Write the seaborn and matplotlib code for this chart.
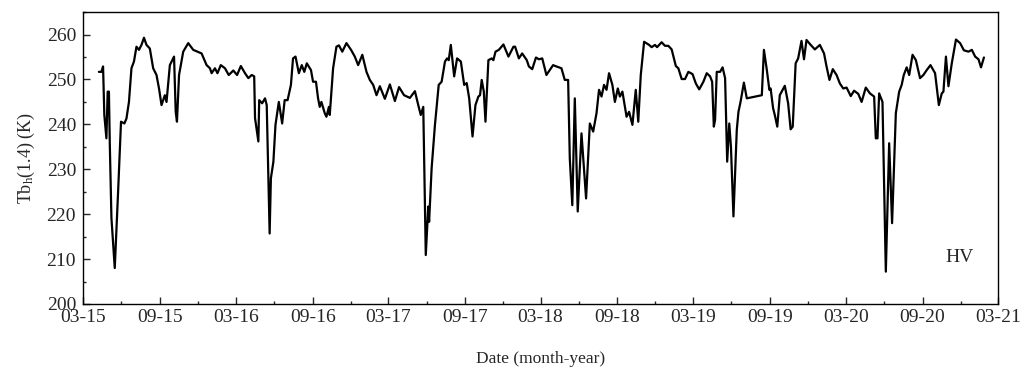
import numpy as np
import pandas as pd
import matplotlib
matplotlib.use("Agg")
import matplotlib.pyplot as plt
import matplotlib.dates as mdates
import seaborn as sns

#---- data ----#

dates = [
    "2015-04-08", "2015-04-14", "2015-04-18", "2015-04-21", "2015-04-26", "2015-04-29",
    "2015-05-02", "2015-05-04", "2015-05-08", "2015-05-16", "2015-05-24", "2015-05-31",
    "2015-06-08", "2015-06-13", "2015-06-19", "2015-06-25", "2015-07-01", "2015-07-07",
    "2015-07-13", "2015-07-19", "2015-07-25", "2015-07-31", "2015-08-08", "2015-08-16",
    "2015-08-24", "2015-08-30", "2015-09-05", "2015-09-13", "2015-09-17", "2015-09-25",
    "2015-10-05", "2015-10-09", "2015-10-12", "2015-10-17", "2015-10-27", "2015-11-08",
    "2015-11-20", "2015-12-10", "2015-12-22", "2015-12-30",
    "2016-01-03", "2016-01-11", "2016-01-17", "2016-01-25", "2016-02-04", "2016-02-13",
    "2016-02-24", "2016-03-04", "2016-03-13", "2016-03-23", "2016-03-31", "2016-04-08",
    "2016-04-14", "2016-04-16", "2016-04-24", "2016-04-26", "2016-05-03", "2016-05-10",
    "2016-05-14", "2016-05-21", "2016-05-24", "2016-05-30", "2016-06-04", "2016-06-12",
    "2016-06-20", "2016-06-26", "2016-07-03", "2016-07-11", "2016-07-16", "2016-07-22",
    "2016-07-30", "2016-08-06", "2016-08-12", "2016-08-18", "2016-08-28", "2016-09-02",
    "2016-09-09", "2016-09-14", "2016-09-18", "2016-09-22", "2016-09-30", "2016-10-04",
    "2016-10-10", "2016-10-12", "2016-10-20", "2016-10-28", "2016-11-03", "2016-11-11",
    "2016-11-21", "2016-12-02", "2016-12-11", "2016-12-19", "2016-12-29",
    "2017-01-08", "2017-01-16", "2017-01-24", "2017-02-01", "2017-02-09", "2017-02-21",
    "2017-03-05", "2017-03-17", "2017-03-27", "2017-04-08", "2017-04-22", "2017-05-04",
    "2017-05-12", "2017-05-18", "2017-05-24", "2017-05-30", "2017-06-05", "2017-06-07",
    "2017-06-13", "2017-06-21", "2017-06-30", "2017-07-07", "2017-07-15", "2017-07-20",
    "2017-07-24", "2017-07-29", "2017-08-06", "2017-08-13", "2017-08-22", "2017-08-30",
    "2017-09-05", "2017-09-11", "2017-09-19", "2017-09-26", "2017-10-03", "2017-10-07",
    "2017-10-11", "2017-10-16", "2017-10-20", "2017-10-27", "2017-11-04", "2017-11-08",
    "2017-11-13", "2017-11-21", "2017-12-02", "2017-12-14", "2017-12-26", "2017-12-30",
    "2018-01-08", "2018-01-16", "2018-01-27", "2018-02-01", "2018-02-09", "2018-02-18",
    "2018-02-25", "2018-03-05", "2018-03-15", "2018-03-31", "2018-04-08", "2018-04-20",
    "2018-04-28", "2018-05-06", "2018-05-10", "2018-05-16", "2018-05-22", "2018-05-29",
    "2018-06-07", "2018-06-18", "2018-06-27", "2018-07-05", "2018-07-13", "2018-07-19",
    "2018-07-25", "2018-07-31", "2018-08-06", "2018-08-12", "2018-08-20", "2018-08-26",
    "2018-09-02", "2018-09-07", "2018-09-13", "2018-09-23", "2018-09-29", "2018-10-07",
    "2018-10-15", "2018-10-21", "2018-10-27", "2018-11-04", "2018-11-16", "2018-11-22",
    "2018-11-30", "2018-12-05", "2018-12-16", "2018-12-24",
    "2019-01-01", "2019-01-09", "2019-01-19", "2019-01-25", "2019-02-02", "2019-02-10",
    "2019-02-18", "2019-02-28", "2019-03-08", "2019-03-16", "2019-03-26", "2019-04-03",
    "2019-04-11", "2019-04-16", "2019-04-20", "2019-04-23", "2019-04-27", "2019-05-05",
    "2019-05-11", "2019-05-17", "2019-05-22", "2019-05-27", "2019-05-31", "2019-06-06",
    "2019-06-14", "2019-06-18", "2019-06-23", "2019-07-01", "2019-07-08", "2019-08-13",
    "2019-08-18", "2019-08-25", "2019-08-31", "2019-09-03", "2019-09-09", "2019-09-13",
    "2019-09-19", "2019-09-25", "2019-10-07", "2019-10-15", "2019-10-21", "2019-10-26",
    "2019-11-02", "2019-11-08", "2019-11-16", "2019-11-22", "2019-11-28", "2019-12-08",
    "2019-12-18", "2019-12-24", "2019-12-30",
    "2020-01-09", "2020-01-15", "2020-01-22", "2020-01-30", "2020-02-08", "2020-02-16",
    "2020-02-24", "2020-03-03", "2020-03-13", "2020-03-21", "2020-03-31", "2020-04-08",
    "2020-04-18", "2020-04-28", "2020-05-08", "2020-05-12", "2020-05-16", "2020-05-20",
    "2020-05-28", "2020-06-05", "2020-06-13", "2020-06-20", "2020-06-29", "2020-07-07",
    "2020-07-13", "2020-07-18", "2020-07-25", "2020-07-31", "2020-08-08", "2020-08-16",
    "2020-08-26", "2020-09-03", "2020-09-11", "2020-09-20", "2020-10-01", "2020-10-10",
    "2020-10-17", "2020-10-21", "2020-10-27", "2020-11-02", "2020-11-10", "2020-11-20",
    "2020-11-30", "2020-12-09", "2020-12-20", "2020-12-28",
    "2021-01-05", "2021-01-13", "2021-01-19", "2021-01-26",
]

tb_h = [
    251.7, 251.7, 252.9, 242.1, 236.9, 247.3,
    247.3, 236.2, 219.2, 208.0, 225.0, 240.6,
    240.2, 241.3, 245.0, 252.5, 254.0, 257.3,
    256.6, 257.7, 259.3, 257.7, 256.9, 252.5,
    251.0, 248.0, 244.3, 246.5, 245.0, 253.2,
    255.1, 242.8, 240.6, 251.0, 256.2, 258.1,
    256.6, 255.8, 253.2, 252.5,
    251.4, 252.5, 251.4, 253.2, 252.5, 251.0,
    252.0, 251.0, 253.0, 251.4, 250.3, 251.0,
    250.7, 241.4, 236.2, 245.4, 244.7, 245.8,
    244.3, 215.7, 228.0, 231.7, 239.9, 245.0,
    240.2, 245.4, 245.4, 248.8, 254.7, 255.1,
    251.4, 253.2, 251.7, 253.6, 252.1, 249.5,
    249.5, 245.8, 243.9, 245.0, 242.5, 241.7,
    243.9, 242.1, 252.5, 257.3, 257.6, 256.2,
    258.1, 256.6, 255.1, 253.2, 255.5,
    251.7, 249.9, 248.8, 246.5, 248.5, 245.7,
    248.9, 245.2, 248.3, 246.5, 245.9, 247.4,
    244.3, 242.1, 243.9, 210.9, 221.7, 218.3,
    230.2, 239.9, 248.8, 249.5, 254.0, 254.7,
    254.3, 257.7, 250.7, 254.7, 254.0, 248.8,
    249.2, 245.8, 237.3, 244.3, 246.2, 246.5,
    249.9, 247.3, 240.6, 254.3, 254.7, 254.3,
    256.2, 256.6, 257.8, 255.1, 257.3, 257.3,
    254.7, 255.8, 254.3, 252.9, 252.3, 254.9,
    254.5, 254.7, 251.0, 253.2, 252.9, 252.5,
    249.9, 249.9, 232.4, 222.0, 245.8, 220.6,
    238.0, 223.5, 240.2, 238.4, 242.5, 247.7,
    246.2, 248.8, 247.7, 251.4, 248.8, 245.0,
    248.0, 246.2, 247.3, 241.7, 242.8, 239.9,
    247.7, 240.6, 251.0, 258.4, 257.7, 257.2,
    257.7, 257.2, 258.3, 257.5,
    257.5, 256.7, 253.0, 252.5, 250.1, 250.1,
    251.7, 251.2, 249.1, 247.8, 249.5, 251.4,
    250.7, 249.5, 239.5, 241.0, 251.7, 251.7,
    252.7, 250.3, 231.7, 240.2, 235.0, 219.5,
    238.8, 242.8, 245.0, 249.3, 245.8, 246.5,
    256.6, 252.1, 247.7, 248.0, 243.6, 242.1,
    239.5, 246.5, 248.6, 244.7, 238.9, 239.5,
    253.6, 254.7, 258.6, 254.5, 258.8, 257.7,
    256.7, 257.2, 257.7,
    255.8, 252.9, 249.9, 252.3, 251.0, 249.1,
    248.0, 248.2, 246.3, 247.5, 246.8, 245.0,
    248.2, 246.9, 246.2, 236.9, 236.9, 246.9,
    245.0, 207.2, 235.8, 218.0, 242.5, 247.3,
    248.8, 251.0, 252.7, 251.0, 255.5, 254.3,
    250.3, 251.0, 252.1, 253.2, 251.4, 244.3,
    246.9, 247.3, 255.1, 248.5, 253.6, 258.9,
    258.1, 256.5, 256.2, 256.6,
    255.1, 254.5, 252.7, 254.9,
]

data = pd.DataFrame({"date": pd.to_datetime(dates), "tb": tb_h})

#---- render plot ----#

sns.set_style("ticks")
plt.rcParams["font.family"] = ["Liberation Serif", "DejaVu Serif"]
plt.rcParams["mathtext.fontset"] = "custom"
plt.rcParams["mathtext.rm"] = "Liberation Serif"
plt.rcParams["mathtext.it"] = "Liberation Serif:italic"

fig = plt.figure(figsize=(10.34, 3.68), dpi=100)
ax = fig.add_axes([0.0803, 0.174, 0.885, 0.793])

sns.lineplot(data=data, x="date", y="tb", color="black", linewidth=1.6, ax=ax)

ax.set_xlim(pd.Timestamp("2015-03-01"), pd.Timestamp("2021-03-01"))
ax.set_ylim(200, 265)
ax.set_yticks([200, 210, 220, 230, 240, 250, 260])
ax.yaxis.set_minor_locator(matplotlib.ticker.MultipleLocator(5))

ax.xaxis.set_major_locator(mdates.MonthLocator(bymonth=[3, 9]))
ax.xaxis.set_minor_locator(mdates.MonthLocator(bymonth=[6, 12]))
ax.xaxis.set_major_formatter(mdates.DateFormatter("%m-%y"))

ax.tick_params(which="major", direction="in", length=5, width=1, labelsize=14,
               top=False, right=False)
ax.tick_params(which="minor", direction="in", length=2.5, width=1, top=False, right=False)
ax.tick_params(axis="x", which="major", pad=3.5)
ax.tick_params(axis="y", which="major", pad=5)

for s in ax.spines.values():
    s.set_linewidth(1.0)
    s.set_color("black")

ax.set_xlabel("Date (month-year)", fontsize=12.5, labelpad=18)
ax.set_ylabel(r"Tb$_\mathrm{h}$(1.4) (K)", fontsize=13, labelpad=7)

ax.text(0.958, 0.16, "HV", transform=ax.transAxes, fontsize=14, ha="center", va="center")

plt.savefig("out.png", dpi=100)
